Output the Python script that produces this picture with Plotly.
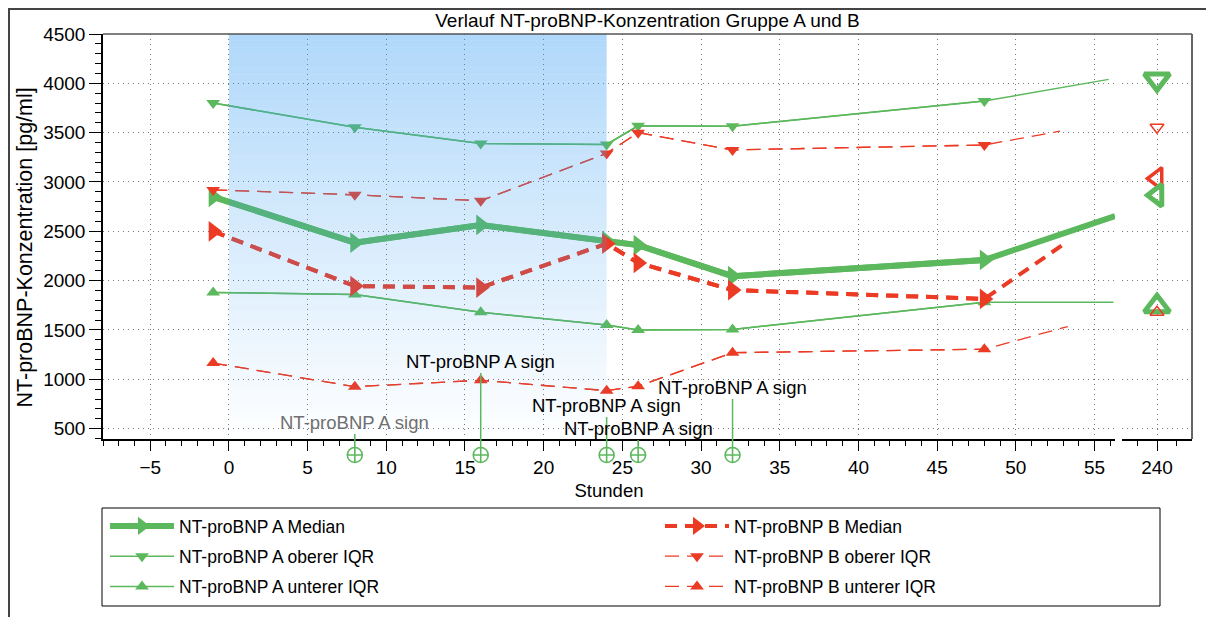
import plotly.graph_objects as go

# ---------------- data ----------------
hours = [-1, 8, 16, 24, 26, 32, 48]
a_median = [2850, 2385, 2565, 2400, 2360, 2045, 2210]
a_upper = [3800, 3555, 3390, 3380, 3570, 3565, 3820]
a_lower = [1880, 1860, 1680, 1550, 1500, 1505, 1780]
b_median = [2500, 1945, 1930, 2375, 2180, 1905, 1815]
b_upper = [2920, 2870, 2810, 3290, 3500, 3325, 3375]
b_lower = [1165, 925, 990, 885, 930, 1270, 1305]

# line continuation towards the next (off-axis) time point, cut at the axis break
tail_hours = {"a_median": 56.3, "a_upper": 55.9, "a_lower": 56.2,
              "b_median": 53.0, "b_upper": 52.8, "b_lower": 53.3}
tail_values = {"a_median": 2655, "a_upper": 4040, "a_lower": 1780,
               "b_median": 2365, "b_upper": 3515, "b_lower": 1535}

# values at 240 h (separate axis panel)
late_hour = [240]
late_values = {"a_upper": 4040, "b_upper": 3555, "b_median": 3035,
               "a_median": 2865, "a_lower": 1740, "b_lower": 1680}

# significance markers
sig_hours = [8, 16, 24, 26, 32]
sig_label = "NT-proBNP A sign"

shade_start, shade_end = 0, 24
y_ticks = list(range(500, 5000, 500))

# ---------------- geometry helpers (page has an 8px body margin) ----------------
W, H = 1206, 609
PAGE = 8
L, R, T, B = 95, 22, 26, 147          # plot area incl. marker strip
PW = W - L - R                        # 1089
PH = H - T - B                        # 436
MAIN_BOTTOM = 439                     # screen y of x-axis line
Y_DOM0 = (PAGE + T + PH - MAIN_BOTTOM) / PH


def px(sx):
    return (sx - PAGE - L) / PW


def py(sy):
    return (PAGE + T + PH - sy) / PH


def cx(sx):
    return (sx - PAGE) / W


def cy(sy):
    return 1 - (sy - PAGE) / H


SIG_Y = (py(455)) / Y_DOM0            # position inside the marker strip axis

# ---------------- style ----------------
GREEN = "#5cb85c"
RED = "#ec3b25"
FONT = "Liberation Sans, Arial, sans-serif"

fig = go.Figure()


def add_series(key, xs, ys, name, color, width, dash, symbol, msize):
    fig.add_trace(go.Scatter(
        x=xs + [tail_hours[key]], y=ys + [tail_values[key]],
        mode="lines", line=dict(color=color, width=width, dash=dash),
        showlegend=False, hoverinfo="skip", xaxis="x", yaxis="y"))
    fig.add_trace(go.Scatter(
        x=xs, y=ys, mode="lines+markers", name=name, legendgroup=key,
        line=dict(color=color, width=width, dash=dash),
        marker=dict(symbol=symbol, size=msize, color=color),
        legend="legend" if key.startswith("a") else "legend2",
        xaxis="x", yaxis="y"))


add_series("a_median", hours, a_median, "NT-proBNP A Median", GREEN, 6, "solid", "triangle-right", 18)
add_series("a_upper", hours, a_upper, "NT-proBNP A oberer IQR", GREEN, 1.5, "solid", "triangle-down", 12)
add_series("a_lower", hours, a_lower, "NT-proBNP A unterer IQR", GREEN, 1.5, "solid", "triangle-up", 12)
add_series("b_median", hours, b_median, "NT-proBNP B Median", RED, 4, "12px,8px", "triangle-right", 18)
add_series("b_upper", hours, b_upper, "NT-proBNP B oberer IQR", RED, 1.3, "14px,8px", "triangle-down", 12)
add_series("b_lower", hours, b_lower, "NT-proBNP B unterer IQR", RED, 1.3, "14px,8px", "triangle-up", 12)

# 240 h panel
late_style = {
    "a_upper": (GREEN, "triangle-down-open", 22, 5),
    "b_upper": (RED, "triangle-down-open", 12, 1.5),
    "b_median": (RED, "triangle-left-open", 19, 3.5),
    "a_median": (GREEN, "triangle-left-open", 19, 5),
    "a_lower": (GREEN, "triangle-up-open", 22, 5),
    "b_lower": (RED, "triangle-up-open", 12, 1.5),
}
for key in ["a_upper", "b_upper", "b_median", "a_median", "a_lower", "b_lower"]:
    col, sym, sz, lw = late_style[key]
    fig.add_trace(go.Scatter(
        x=late_hour, y=[late_values[key]], mode="markers",
        marker=dict(symbol=sym, size=sz, color=col, line=dict(color=col, width=lw)),
        showlegend=False, xaxis="x2", yaxis="y2"))

# significance markers (strip below the x axis)
fig.add_trace(go.Scatter(
    x=sig_hours, y=[SIG_Y] * len(sig_hours), mode="markers", cliponaxis=False,
    marker=dict(symbol="circle-cross-open", size=15, color=GREEN, line=dict(width=1.6, color=GREEN)),
    showlegend=False, xaxis="x3", yaxis="y3"))

sig_text_offset = [-33, -94, -50, -27, -68]
sig_text_color = ["#707070", "black", "black", "black", "black"]
for h, off, tc in zip(sig_hours, sig_text_offset, sig_text_color):
    fig.add_annotation(
        x=h, y=SIG_Y, xref="x3", yref="y3", text=sig_label,
        showarrow=True, arrowhead=0, arrowwidth=1.5, arrowcolor=GREEN,
        ax=0, ay=off, standoff=7.5,
        font=dict(size=18.5, color=tc, family=FONT), bgcolor="rgba(0,0,0,0)")

# y-axis title
fig.add_annotation(
    x=px(24), y=py(247.5), xref="paper", yref="paper", text="NT-proBNP-Konzentration [pg/ml]",
    textangle=-90, showarrow=False, xanchor="center", yanchor="middle",
    font=dict(size=21.5, color="black", family=FONT))

# gradient shaded region (drawn above lines, semi transparent)
shapes = []
n_bands = 60
for i in range(n_bands):
    y0 = i / n_bands
    y1 = (i + 1) / n_bands
    alpha = 0.41 * (y0 + y1) / 2
    shapes.append(dict(type="rect", xref="x", yref="y domain", x0=shade_start, x1=shade_end,
                       y0=y0, y1=y1, line=dict(width=0),
                       fillcolor=f"rgba(62,160,243,{alpha:.3f})", layer="above"))

# plot frame lines (top + right)
shapes.append(dict(type="line", xref="paper", yref="paper", x0=0, x1=1, y0=1, y1=1,
                   line=dict(color="#555", width=1.5)))
shapes.append(dict(type="line", xref="paper", yref="y domain", x0=1, x1=1, y0=0, y1=1,
                   line=dict(color="#666", width=2)))
# outer figure frame
shapes.append(dict(type="rect", xref="paper", yref="paper", x0=px(8), x1=px(1240),
                   y0=py(660), y1=py(8), line=dict(color="#444", width=4)))
# legend box
shapes.append(dict(type="rect", xref="paper", yref="paper",
                   x0=px(102), x1=px(1160), y0=py(606), y1=py(508),
                   line=dict(color="black", width=1)))

axis_font = dict(size=19, color="black", family=FONT)
grid = dict(showgrid=True, gridcolor="#777", griddash="1px,4px", gridwidth=1)
dom1 = (1115 - PAGE - L) / PW
dom2 = (1122 - PAGE - L) / PW

fig.update_layout(
    width=W, height=H,
    margin=dict(l=L, r=R, t=T, b=B, autoexpand=False),
    paper_bgcolor="white", plot_bgcolor="white",
    font=dict(family=FONT, color="black"),
    title=dict(text="Verlauf NT-proBNP-Konzentration Gruppe A und B",
               x=cx(647.5), xanchor="center", y=cy(20), yanchor="middle",
               font=dict(size=19, color="black", family=FONT)),
    xaxis=dict(domain=[0, dom1], range=[-8, 56.3], tick0=0, dtick=5,
               ticks="outside", ticklen=10, tickwidth=1.2, tickcolor="black",
               minor=dict(dtick=1, tick0=0, ticks="outside", ticklen=5, tickcolor="black", showgrid=False),
               showline=True, linecolor="black", linewidth=1.5,
               tickfont=axis_font, zeroline=False, anchor="y",
               title=dict(text="Stunden", font=dict(size=18.5, color="black", family=FONT), standoff=8),
               **grid),
    xaxis2=dict(domain=[dom2, 1], range=[238.2, 241.8], tick0=0, dtick=5,
                ticks="outside", ticklen=10, tickwidth=1.2, tickcolor="black",
                minor=dict(dtick=1, tick0=0, ticks="outside", ticklen=5, tickcolor="black", showgrid=False),
                showline=True, linecolor="black", linewidth=1.5,
                tickfont=axis_font, zeroline=False, anchor="y2", **grid),
    xaxis3=dict(domain=[0, dom1], matches="x", anchor="y3", visible=False),
    yaxis=dict(domain=[Y_DOM0, 1], range=[395, 4500], tickvals=y_ticks,
               ticks="outside", ticklen=12, tickwidth=1.2, tickcolor="black",
               minor=dict(dtick=100, tick0=0, ticks="outside", ticklen=6, tickcolor="black", showgrid=False),
               showline=True, linecolor="black", linewidth=1.5,
               tickfont=axis_font, zeroline=False, anchor="x",
               **grid),
    yaxis2=dict(domain=[Y_DOM0, 1], matches="y", range=[395, 4500], tickvals=y_ticks,
                showticklabels=False, ticks="", showline=False, zeroline=False, anchor="x2", **grid),
    yaxis3=dict(domain=[0, Y_DOM0], range=[0, 1], anchor="x3", visible=False),
    legend=dict(xref="container", yref="container", x=cx(105), y=cy(508),
                xanchor="left", yanchor="top", orientation="v",
                bgcolor="rgba(0,0,0,0)", borderwidth=0, itemwidth=64, tracegroupgap=4.5,
                font=dict(size=17.5, color="black", family=FONT)),
    legend2=dict(xref="container", yref="container", x=cx(660), y=cy(508),
                 xanchor="left", yanchor="top", orientation="v",
                 bgcolor="rgba(0,0,0,0)", borderwidth=0, itemwidth=64, tracegroupgap=4.5,
                 font=dict(size=17.5, color="black", family=FONT)),
    shapes=shapes,
)

fig.write_html("out.html")
